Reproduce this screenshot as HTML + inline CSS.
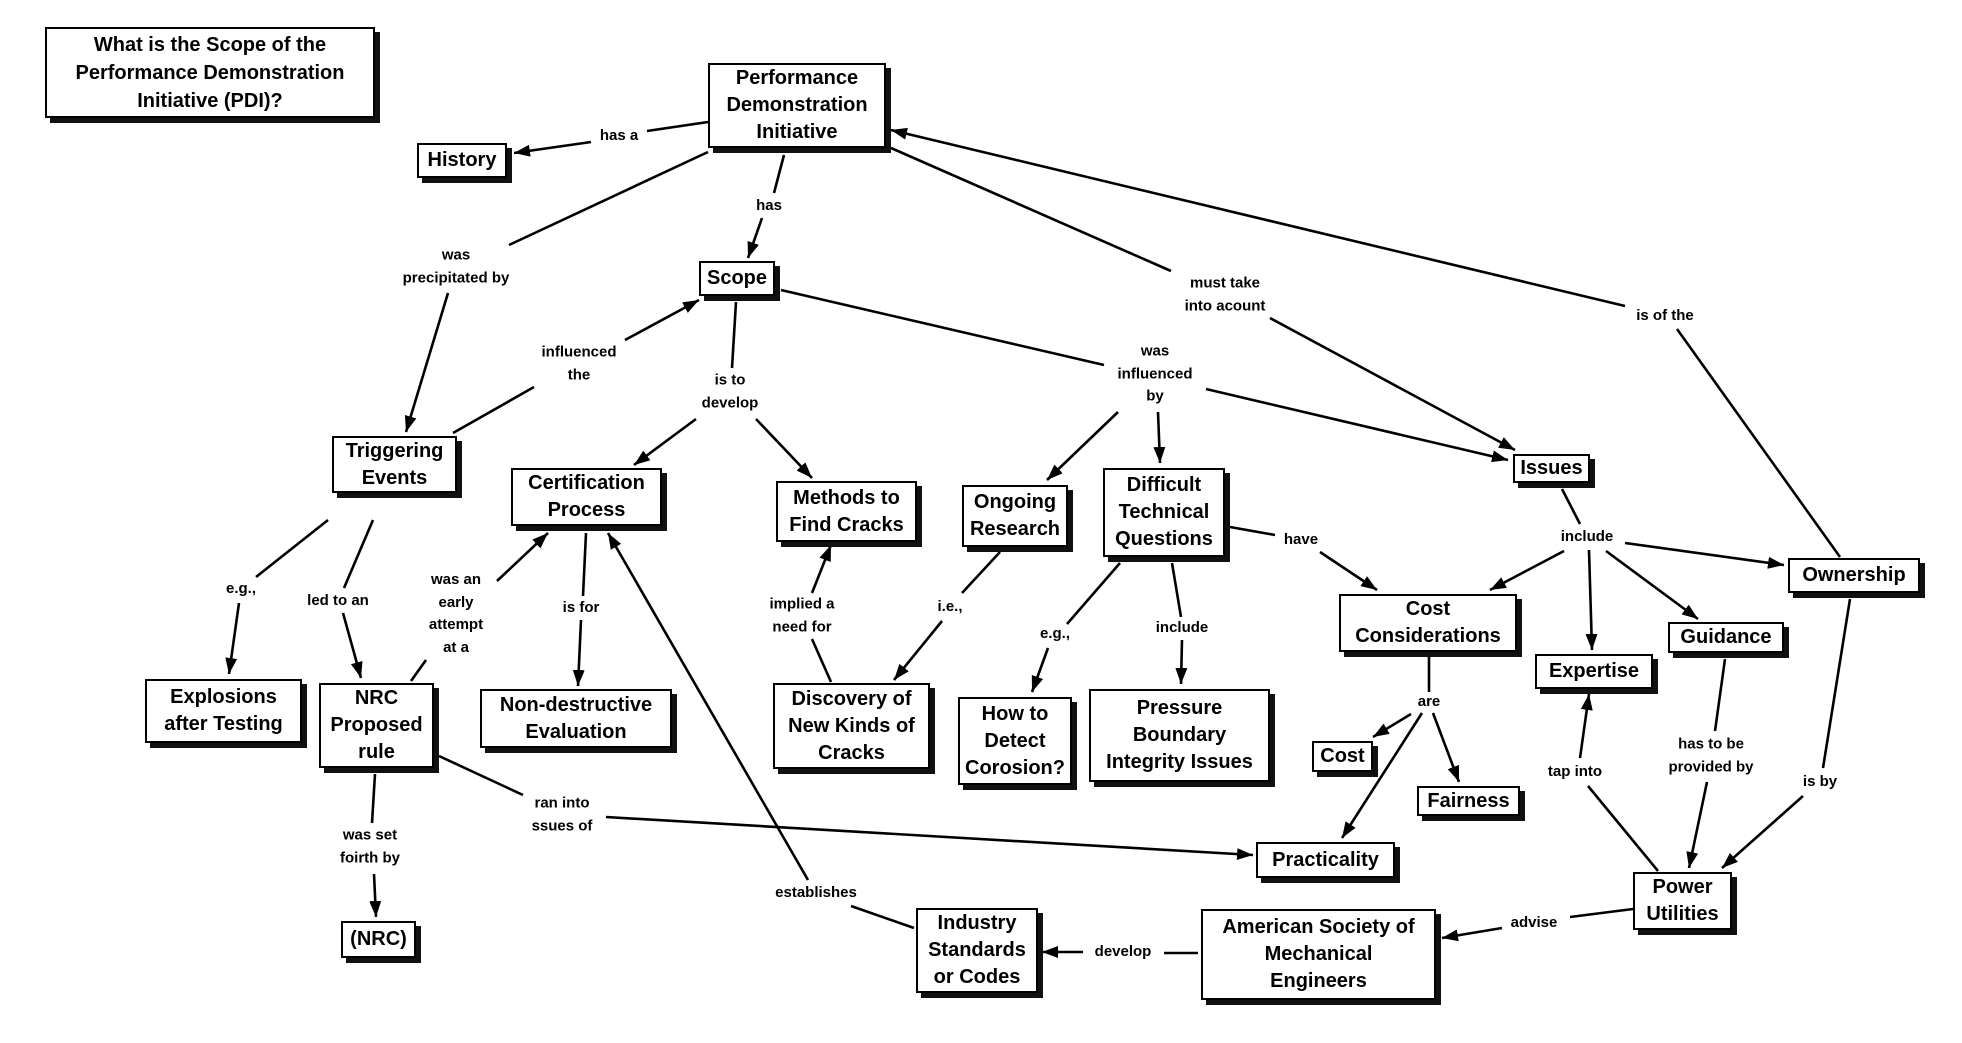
<!DOCTYPE html>
<html><head><meta charset="utf-8"><style>
body{margin:0;background:#fff;}
#c{position:relative;width:1962px;height:1043px;overflow:hidden;background:#fff;font-family:"Liberation Sans",sans-serif;}
.n{position:absolute;box-sizing:border-box;border:2.5px solid #000;background:#fff;box-shadow:5px 5px 0 #111;display:flex;align-items:center;justify-content:center;text-align:center;font-size:20px;font-weight:bold;line-height:27px;white-space:nowrap;color:#000;}
.l{position:absolute;transform:translate(-50%,-50%);font-weight:bold;font-size:15px;line-height:22.5px;text-align:center;white-space:nowrap;color:#000;}
svg{position:absolute;left:0;top:0;}
</style></head><body><div id="c">
<svg width="1962" height="1043" viewBox="0 0 1962 1043">
<defs><marker id="a" viewBox="0 0 16 12" refX="16" refY="6" markerWidth="16" markerHeight="12" orient="auto" markerUnits="userSpaceOnUse"><path d="M0,0L16,6L0,12z" fill="#000"/></marker></defs>
<g stroke="#000" stroke-width="2.6" fill="none">
<line x1="708" y1="122" x2="647" y2="131"/>
<line x1="591" y1="142" x2="514" y2="153" marker-end="url(#a)"/>
<line x1="708" y1="152" x2="509" y2="245"/>
<line x1="448" y1="293" x2="406" y2="432" marker-end="url(#a)"/>
<line x1="784" y1="155" x2="774" y2="193"/>
<line x1="762" y1="218" x2="748" y2="258" marker-end="url(#a)"/>
<line x1="453" y1="433" x2="534" y2="387"/>
<line x1="625" y1="340" x2="699" y2="300" marker-end="url(#a)"/>
<line x1="736" y1="302" x2="732" y2="368"/>
<line x1="696" y1="419" x2="634" y2="465" marker-end="url(#a)"/>
<line x1="756" y1="419" x2="812" y2="478" marker-end="url(#a)"/>
<line x1="781" y1="290" x2="1104" y2="365"/>
<line x1="1206" y1="389" x2="1508" y2="460" marker-end="url(#a)"/>
<line x1="1118" y1="412" x2="1047" y2="480" marker-end="url(#a)"/>
<line x1="1158" y1="412" x2="1160" y2="463" marker-end="url(#a)"/>
<line x1="891" y1="148" x2="1171" y2="271"/>
<line x1="1270" y1="318" x2="1515" y2="450" marker-end="url(#a)"/>
<line x1="1840" y1="557" x2="1677" y2="329"/>
<line x1="1625" y1="306" x2="891" y2="130" marker-end="url(#a)"/>
<line x1="1562" y1="489" x2="1580" y2="524"/>
<line x1="1625" y1="543" x2="1784" y2="565" marker-end="url(#a)"/>
<line x1="1564" y1="551" x2="1490" y2="590" marker-end="url(#a)"/>
<line x1="1589" y1="550" x2="1592" y2="650" marker-end="url(#a)"/>
<line x1="1606" y1="551" x2="1698" y2="619" marker-end="url(#a)"/>
<line x1="1230" y1="527" x2="1275" y2="535"/>
<line x1="1320" y1="552" x2="1377" y2="590" marker-end="url(#a)"/>
<line x1="1120" y1="563" x2="1067" y2="624"/>
<line x1="1048" y1="648" x2="1032" y2="692" marker-end="url(#a)"/>
<line x1="1172" y1="563" x2="1181" y2="617"/>
<line x1="1182" y1="640" x2="1181" y2="684" marker-end="url(#a)"/>
<line x1="1429" y1="657" x2="1429" y2="692"/>
<line x1="1411" y1="714" x2="1373" y2="737" marker-end="url(#a)"/>
<line x1="1433" y1="713" x2="1459" y2="782" marker-end="url(#a)"/>
<line x1="1422" y1="713" x2="1342" y2="838" marker-end="url(#a)"/>
<line x1="439" y1="756" x2="523" y2="795"/>
<line x1="606" y1="817" x2="1253" y2="855" marker-end="url(#a)"/>
<line x1="1850" y1="599" x2="1823" y2="768"/>
<line x1="1803" y1="796" x2="1722" y2="868" marker-end="url(#a)"/>
<line x1="1725" y1="659" x2="1715" y2="731"/>
<line x1="1707" y1="782" x2="1689" y2="868" marker-end="url(#a)"/>
<line x1="1658" y1="871" x2="1588" y2="786"/>
<line x1="1580" y1="758" x2="1589" y2="694" marker-end="url(#a)"/>
<line x1="1633" y1="909" x2="1570" y2="917"/>
<line x1="1502" y1="928" x2="1442" y2="938" marker-end="url(#a)"/>
<line x1="1198" y1="953" x2="1164" y2="953"/>
<line x1="1083" y1="952" x2="1042" y2="952" marker-end="url(#a)"/>
<line x1="914" y1="928" x2="851" y2="906"/>
<line x1="808" y1="880" x2="608" y2="533" marker-end="url(#a)"/>
<line x1="328" y1="520" x2="256" y2="577"/>
<line x1="239" y1="603" x2="229" y2="674" marker-end="url(#a)"/>
<line x1="373" y1="520" x2="344" y2="588"/>
<line x1="343" y1="613" x2="361" y2="678" marker-end="url(#a)"/>
<line x1="411" y1="681" x2="426" y2="660"/>
<line x1="497" y1="581" x2="548" y2="533" marker-end="url(#a)"/>
<line x1="586" y1="533" x2="583" y2="596"/>
<line x1="581" y1="620" x2="578" y2="686" marker-end="url(#a)"/>
<line x1="831" y1="682" x2="812" y2="639"/>
<line x1="812" y1="593" x2="831" y2="545" marker-end="url(#a)"/>
<line x1="1000" y1="552" x2="962" y2="593"/>
<line x1="942" y1="621" x2="894" y2="680" marker-end="url(#a)"/>
<line x1="375" y1="774" x2="372" y2="823"/>
<line x1="374" y1="874" x2="376" y2="917" marker-end="url(#a)"/>
</g></svg>

<div class="n" style="left:45px;top:27px;width:330px;height:91px;line-height:28px">What is the Scope of the<br>Performance Demonstration<br>Initiative (PDI)?</div>
<div class="n" style="left:708px;top:63px;width:178px;height:85px">Performance<br>Demonstration<br>Initiative</div>
<div class="n" style="left:417px;top:143px;width:90px;height:35px">History</div>
<div class="n" style="left:699px;top:261px;width:76px;height:35px">Scope</div>
<div class="n" style="left:332px;top:436px;width:125px;height:57px">Triggering<br>Events</div>
<div class="n" style="left:511px;top:468px;width:151px;height:58px">Certification<br>Process</div>
<div class="n" style="left:776px;top:481px;width:141px;height:61px">Methods to<br>Find Cracks</div>
<div class="n" style="left:962px;top:485px;width:106px;height:62px">Ongoing<br>Research</div>
<div class="n" style="left:1103px;top:468px;width:122px;height:89px">Difficult<br>Technical<br>Questions</div>
<div class="n" style="left:1513px;top:454px;width:77px;height:29px">Issues</div>
<div class="n" style="left:1788px;top:558px;width:132px;height:35px">Ownership</div>
<div class="n" style="left:1339px;top:594px;width:178px;height:58px">Cost<br>Considerations</div>
<div class="n" style="left:1535px;top:654px;width:118px;height:35px">Expertise</div>
<div class="n" style="left:1668px;top:622px;width:116px;height:31px">Guidance</div>
<div class="n" style="left:145px;top:679px;width:157px;height:64px">Explosions<br>after Testing</div>
<div class="n" style="left:319px;top:683px;width:115px;height:85px">NRC<br>Proposed<br>rule</div>
<div class="n" style="left:480px;top:689px;width:192px;height:59px">Non-destructive<br>Evaluation</div>
<div class="n" style="left:341px;top:921px;width:75px;height:37px">(NRC)</div>
<div class="n" style="left:773px;top:683px;width:157px;height:86px">Discovery of<br>New Kinds of<br>Cracks</div>
<div class="n" style="left:958px;top:697px;width:114px;height:88px">How to<br>Detect<br>Corosion?</div>
<div class="n" style="left:1089px;top:689px;width:181px;height:93px">Pressure<br>Boundary<br>Integrity Issues</div>
<div class="n" style="left:1312px;top:741px;width:61px;height:31px">Cost</div>
<div class="n" style="left:1417px;top:786px;width:103px;height:30px">Fairness</div>
<div class="n" style="left:1256px;top:842px;width:139px;height:36px">Practicality</div>
<div class="n" style="left:1633px;top:872px;width:99px;height:58px">Power<br>Utilities</div>
<div class="n" style="left:1201px;top:909px;width:235px;height:91px">American Society of<br>Mechanical<br>Engineers</div>
<div class="n" style="left:916px;top:908px;width:122px;height:85px">Industry<br>Standards<br>or Codes</div>

<div class="l" style="left:619px;top:136px">has a</div>
<div class="l" style="left:456px;top:267px">was<br>precipitated by</div>
<div class="l" style="left:769px;top:206px">has</div>
<div class="l" style="left:579px;top:364px">influenced<br>the</div>
<div class="l" style="left:730px;top:392px">is to<br>develop</div>
<div class="l" style="left:1155px;top:374px">was<br>influenced<br>by</div>
<div class="l" style="left:1225px;top:295px">must take<br>into acount</div>
<div class="l" style="left:1665px;top:316px">is of the</div>
<div class="l" style="left:1587px;top:537px">include</div>
<div class="l" style="left:1301px;top:540px">have</div>
<div class="l" style="left:1055px;top:634px">e.g.,</div>
<div class="l" style="left:1182px;top:628px">include</div>
<div class="l" style="left:1429px;top:702px">are</div>
<div class="l" style="left:562px;top:815px">ran into<br>ssues of</div>
<div class="l" style="left:1820px;top:782px">is by</div>
<div class="l" style="left:1711px;top:756px">has to be<br>provided by</div>
<div class="l" style="left:1575px;top:772px">tap into</div>
<div class="l" style="left:1534px;top:923px">advise</div>
<div class="l" style="left:1123px;top:952px">develop</div>
<div class="l" style="left:816px;top:893px">establishes</div>
<div class="l" style="left:241px;top:589px">e.g.,</div>
<div class="l" style="left:338px;top:601px">led to an</div>
<div class="l" style="left:456px;top:614px">was an<br>early<br>attempt<br>at a</div>
<div class="l" style="left:581px;top:608px">is for</div>
<div class="l" style="left:802px;top:616px">implied a<br>need for</div>
<div class="l" style="left:950px;top:607px">i.e.,</div>
<div class="l" style="left:370px;top:847px">was set<br>foirth by</div>
</div></body></html>
